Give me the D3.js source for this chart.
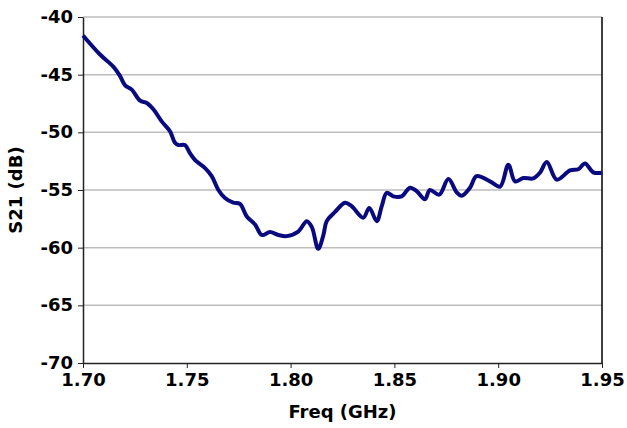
<!DOCTYPE html>
<html>
<head>
<meta charset="utf-8">
<script src="https://cdn.jsdelivr.net/npm/d3@7"></script>
<style>
  body { margin: 0; background: #fff; }
  text { font-family: 'DejaVu Sans', sans-serif; font-weight: bold; }
</style>
</head>
<body>
<div id="chart"></div>
<script>
// S21 vs frequency
let freq = [1.7000, 1.7082, 1.7146, 1.7178, 1.7202, 1.7235, 1.7275, 1.7307, 1.7339, 1.7379,
  1.7419, 1.7443, 1.7459, 1.7491, 1.7515, 1.7540, 1.7588, 1.7620, 1.7652, 1.7684,
  1.7724, 1.7756, 1.7789, 1.7829, 1.7861, 1.7901, 1.7941, 1.7981, 1.8037, 1.8078,
  1.8102, 1.8133, 1.8158, 1.8174, 1.8214, 1.8262, 1.8294, 1.8350, 1.8379, 1.8415,
  1.8439, 1.8463, 1.8495, 1.8535, 1.8575, 1.8607, 1.8647, 1.8671, 1.8716, 1.8760,
  1.8800, 1.8824, 1.8864, 1.8896, 1.8960, 1.9009, 1.9049, 1.9081, 1.9121, 1.9169,
  1.9201, 1.9234, 1.9282, 1.9346, 1.9386, 1.9418, 1.9458, 1.9500]
let s21 = [-41.6, -43.25, -44.3, -45.1, -45.9, -46.3, -47.25, -47.45, -48.0, -49.05,
  -49.9, -50.9, -51.1, -51.1, -51.8, -52.4, -53.1, -53.8, -55.0, -55.7,
  -56.1, -56.2, -57.3, -58.0, -58.9, -58.65, -58.9, -59.0, -58.6, -57.7,
  -58.2, -60.1, -58.9, -57.7, -56.9, -56.1, -56.4, -57.4, -56.55, -57.7,
  -56.4, -55.25, -55.55, -55.55, -54.8, -55.1, -55.8, -55.0, -55.4, -54.05,
  -55.2, -55.5, -54.8, -53.8, -54.25, -54.7, -52.8, -54.25, -53.96, -54.0,
  -53.5, -52.57, -54.1, -53.3, -53.2, -52.7, -53.47, -53.5]

let xTicks = [1.70, 1.75, 1.80, 1.85, 1.90, 1.95]
let yTicks = [-40, -45, -50, -55, -60, -65, -70]

let margin = { top: 17, left: 83, right: 25, bottom: 65 }
let width = 627 - margin.left - margin.right
let height = 428 - margin.top - margin.bottom

let svg = d3
  .select('#chart')
  .append('svg')
  .attr('width', 627)
  .attr('height', 428)
  .append('g')
  .attr('transform', 'translate(' + margin.left + ',' + margin.top + ')')

let xPositionScale = d3.scaleLinear().domain([1.70, 1.95]).range([0, width])
let yPositionScale = d3.scaleLinear().domain([-70, -40]).range([height, 0])

// gridlines
svg
  .selectAll('.grid')
  .data(yTicks.filter(d => d !== -70))
  .enter()
  .append('line')
  .attr('class', 'grid')
  .attr('x1', 0)
  .attr('x2', width)
  .attr('y1', d => yPositionScale(d))
  .attr('y2', d => yPositionScale(d))
  .attr('stroke', '#bdbdbd')
  .attr('stroke-width', 1.5)

// right border
svg
  .append('line')
  .attr('x1', width)
  .attr('x2', width)
  .attr('y1', 0)
  .attr('y2', height)
  .attr('stroke', '#000')
  .attr('stroke-width', 1.5)

let xAxis = d3
  .axisBottom(xPositionScale)
  .tickValues(xTicks)
  .tickFormat(d3.format('.2f'))
  .tickSizeInner(5)
  .tickSizeOuter(0)
  .tickPadding(5)
svg
  .append('g')
  .attr('class', 'axis x-axis')
  .attr('transform', 'translate(0,' + height + ')')
  .call(xAxis)

let yAxis = d3
  .axisLeft(yPositionScale)
  .tickValues(yTicks)
  .tickFormat(d => String(d))
  .tickSizeInner(5)
  .tickSizeOuter(0)
  .tickPadding(5)
svg
  .append('g')
  .attr('class', 'axis y-axis')
  .call(yAxis)

svg.selectAll('.axis path').attr('stroke', '#222').attr('stroke-width', 1.5)
svg.selectAll('.axis line').attr('stroke', '#222')
svg.selectAll('.axis text').attr('font-size', 18).attr('fill', '#000')
  .style('font-family', "'DejaVu Sans', sans-serif")
  .style('font-weight', 'bold')
svg.select('.y-axis').selectAll('text').attr('dy', '0.3em')

let line = d3
  .line()
  .x((d, i) => xPositionScale(freq[i]))
  .y(d => yPositionScale(d))
  .curve(d3.curveCatmullRom)

svg
  .append('path')
  .datum(s21)
  .attr('d', line)
  .attr('fill', 'none')
  .attr('stroke', '#0a0a80')
  .attr('stroke-width', 4)
  .attr('stroke-linejoin', 'round')

svg
  .append('text')
  .attr('x', width / 2)
  .attr('y', height + 55)
  .attr('text-anchor', 'middle')
  .attr('font-size', 18)
  .text('Freq (GHz)')

svg
  .append('text')
  .attr('transform', 'translate(-61,' + height / 2 + ') rotate(-90)')
  .attr('text-anchor', 'middle')
  .attr('font-size', 18)
  .text('S21 (dB)')
</script>
</body>
</html>
